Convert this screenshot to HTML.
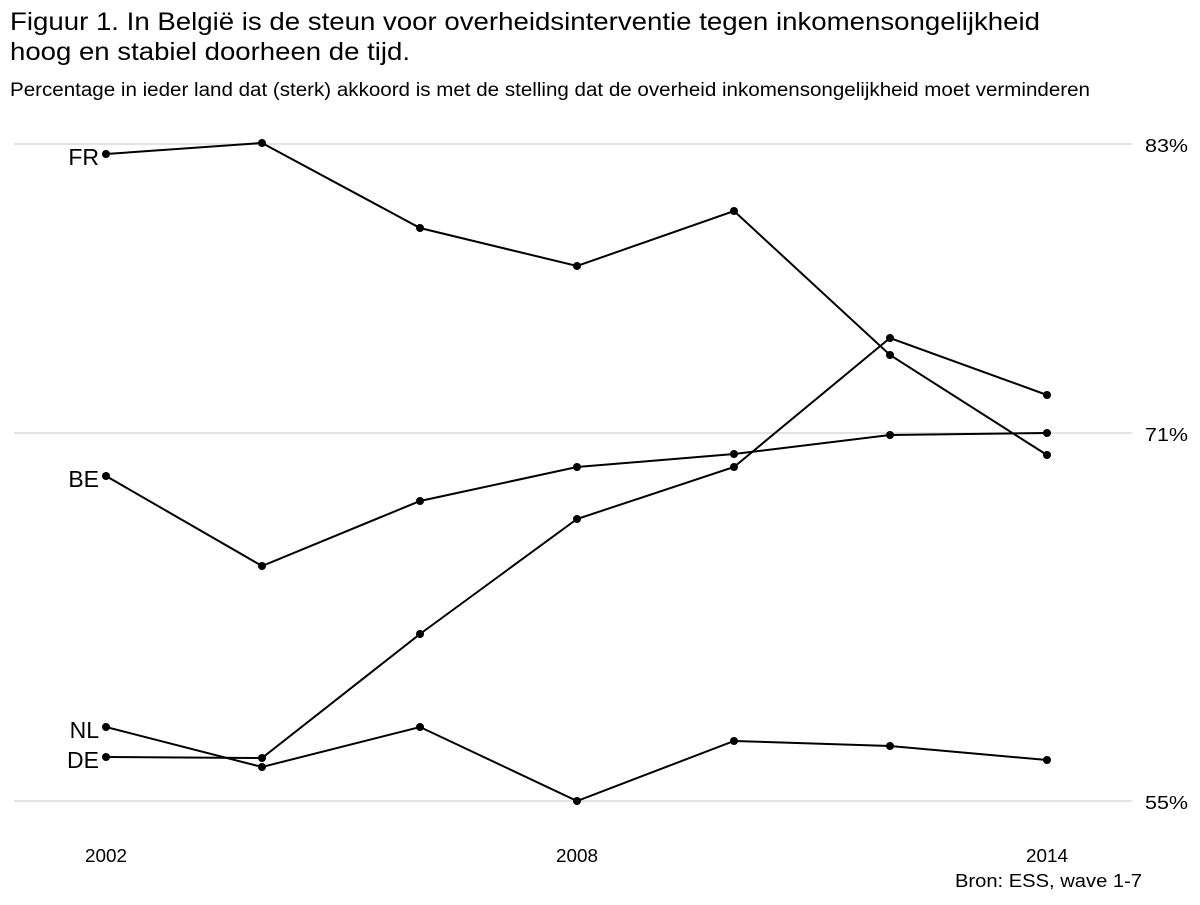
<!DOCTYPE html>
<html><head><meta charset="utf-8"><style>
body{margin:0;background:#fff;}
svg text{font-family:"Liberation Sans",Arial,sans-serif;fill:#000;}
</style></head><body>
<svg width="1200" height="900" xmlns="http://www.w3.org/2000/svg">
<rect width="1200" height="900" fill="#fff"/>
<text x="10" y="30" font-size="25" textLength="1030" lengthAdjust="spacingAndGlyphs">Figuur 1. In België is de steun voor overheidsinterventie tegen inkomensongelijkheid</text>
<text x="10" y="60" font-size="25" textLength="400" lengthAdjust="spacingAndGlyphs">hoog en stabiel doorheen de tijd.</text>
<text x="10" y="96" font-size="19" textLength="1080" lengthAdjust="spacingAndGlyphs">Percentage in ieder land dat (sterk) akkoord is met de stelling dat de overheid inkomensongelijkheid moet verminderen</text>
<g stroke="#e3e3e3" stroke-width="2">
<line x1="14" y1="144" x2="1132" y2="144"/>
<line x1="14" y1="433" x2="1132" y2="433"/>
<line x1="14" y1="801" x2="1132" y2="801"/>
</g>
<g font-size="18" fill="#333">
<text x="1145" y="152" textLength="43" lengthAdjust="spacingAndGlyphs">83%</text>
<text x="1145" y="441" textLength="43" lengthAdjust="spacingAndGlyphs">71%</text>
<text x="1145" y="809" textLength="43" lengthAdjust="spacingAndGlyphs">55%</text>
<text x="85" y="862" textLength="42" lengthAdjust="spacingAndGlyphs">2002</text>
<text x="556" y="862" textLength="42" lengthAdjust="spacingAndGlyphs">2008</text>
<text x="1026" y="862" textLength="42" lengthAdjust="spacingAndGlyphs">2014</text>
</g>
<text x="955" y="887" font-size="18" textLength="187" lengthAdjust="spacingAndGlyphs">Bron: ESS, wave 1-7</text>
<g fill="none" stroke="#000" stroke-width="2">
<polyline points="106,154 262,143 420,228 577,266 734,211 890,355 1047,455"/>
<polyline points="106,476 262,566 420,501 577,467 734,454 890,435 1047,433"/>
<polyline points="106,727 262,767 420,727 577,801 734,741 890,746 1047,760"/>
<polyline points="106,757 262,758 420,634 577,519 734,467 890,338 1047,395"/>
</g>
<g fill="#000">
<circle cx="106" cy="154" r="4"/><circle cx="262" cy="143" r="4"/><circle cx="420" cy="228" r="4"/><circle cx="577" cy="266" r="4"/><circle cx="734" cy="211" r="4"/><circle cx="890" cy="355" r="4"/><circle cx="1047" cy="455" r="4"/>
<circle cx="106" cy="476" r="4"/><circle cx="262" cy="566" r="4"/><circle cx="420" cy="501" r="4"/><circle cx="577" cy="467" r="4"/><circle cx="734" cy="454" r="4"/><circle cx="890" cy="435" r="4"/><circle cx="1047" cy="433" r="4"/>
<circle cx="106" cy="727" r="4"/><circle cx="262" cy="767" r="4"/><circle cx="420" cy="727" r="4"/><circle cx="577" cy="801" r="4"/><circle cx="734" cy="741" r="4"/><circle cx="890" cy="746" r="4"/><circle cx="1047" cy="760" r="4"/>
<circle cx="106" cy="757" r="4"/><circle cx="262" cy="758" r="4"/><circle cx="420" cy="634" r="4"/><circle cx="577" cy="519" r="4"/><circle cx="734" cy="467" r="4"/><circle cx="890" cy="338" r="4"/><circle cx="1047" cy="395" r="4"/>
</g>
<g font-size="23" text-anchor="end">
<text x="99" y="165">FR</text>
<text x="99" y="487">BE</text>
<text x="99" y="738">NL</text>
<text x="99" y="768">DE</text>
</g>
</svg>
</body></html>
